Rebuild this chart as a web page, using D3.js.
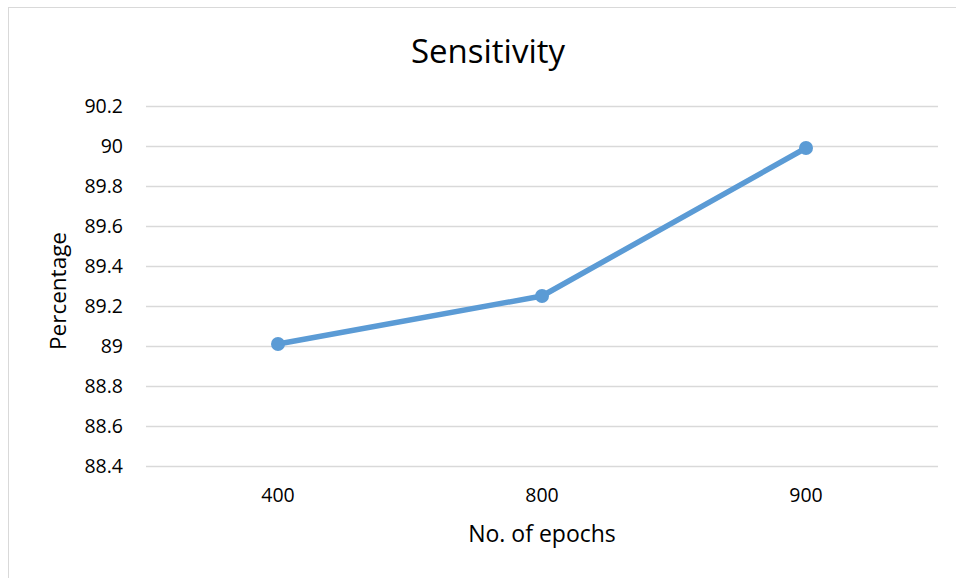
<!DOCTYPE html>
<html>
<head>
<meta charset="utf-8">
<script src="https://cdn.jsdelivr.net/npm/d3@7"></script>
<style>
  html, body { margin: 0; padding: 0; background: #fff; }
  svg { display: block; }
  text { font-family: "Open Sans", "Noto Sans", sans-serif; fill: #000; }
</style>
</head>
<body>
<svg id="chart" width="956" height="578"></svg>
<script>
// Sensitivity by number of training epochs
const categories = ["400", "800", "900"];
const values = [89.01, 89.25, 89.99];
const yTicks = [88.4, 88.6, 88.8, 89, 89.2, 89.4, 89.6, 89.8, 90, 90.2];

const svg = d3.select("#chart");
const W = 956, H = 578;
const plot = { left: 146, right: 938, top: 106, bottom: 466 };

// chart frame
svg.append("rect")
  .attr("x", 8.5).attr("y", 7.5)
  .attr("width", W + 10).attr("height", H + 10)
  .attr("fill", "#fff").attr("stroke", "#d9d9d9").attr("stroke-width", 1);

const x = d3.scaleBand().domain(categories).range([plot.left, plot.right]);
const y = d3.scaleLinear().domain([88.4, 90.2]).range([plot.bottom, plot.top]);

// horizontal gridlines
svg.append("g")
  .selectAll("line")
  .data(yTicks)
  .join("line")
  .attr("x1", plot.left).attr("x2", plot.right)
  .attr("y1", d => Math.round(y(d)) + 0.5).attr("y2", d => Math.round(y(d)) + 0.5)
  .attr("stroke", "#d9d9d9").attr("stroke-width", 1.5);

// y axis labels
svg.append("g")
  .selectAll("text")
  .data(yTicks)
  .join("text")
  .attr("x", 123).attr("y", d => y(d))
  .attr("dy", "0.35em")
  .attr("text-anchor", "end")
  .attr("font-size", 19.5)
  .text(d => d3.format("")(+d.toFixed(1)));

// x axis labels
svg.append("g")
  .selectAll("text")
  .data(categories)
  .join("text")
  .attr("x", d => x(d) + x.bandwidth() / 2)
  .attr("y", 495)
  .attr("dy", "0.35em")
  .attr("text-anchor", "middle")
  .attr("font-size", 19.5)
  .text(d => d);

// line series
const pts = categories.map((c, i) => [x(c) + x.bandwidth() / 2, y(values[i])]);
svg.append("path")
  .datum(pts)
  .attr("d", d3.line())
  .attr("fill", "none")
  .attr("stroke", "#5b9bd5")
  .attr("stroke-width", 5.5)
  .attr("stroke-linejoin", "round")
  .attr("stroke-linecap", "round");

svg.append("g")
  .selectAll("circle")
  .data(pts)
  .join("circle")
  .attr("cx", d => d[0]).attr("cy", d => d[1])
  .attr("r", 7)
  .attr("fill", "#5b9bd5");

// titles
svg.append("text")
  .attr("x", 488).attr("y", 51)
  .attr("dy", "0.35em")
  .attr("text-anchor", "middle")
  .attr("font-size", 33)
  .text("Sensitivity");

svg.append("text")
  .attr("x", 542).attr("y", 534)
  .attr("dy", "0.35em")
  .attr("text-anchor", "middle")
  .attr("font-size", 23)
  .text("No. of epochs");

svg.append("text")
  .attr("transform", "translate(58,291) rotate(-90)")
  .attr("dy", "0.35em")
  .attr("text-anchor", "middle")
  .attr("font-size", 22.5)
  .text("Percentage");
</script>
</body>
</html>
